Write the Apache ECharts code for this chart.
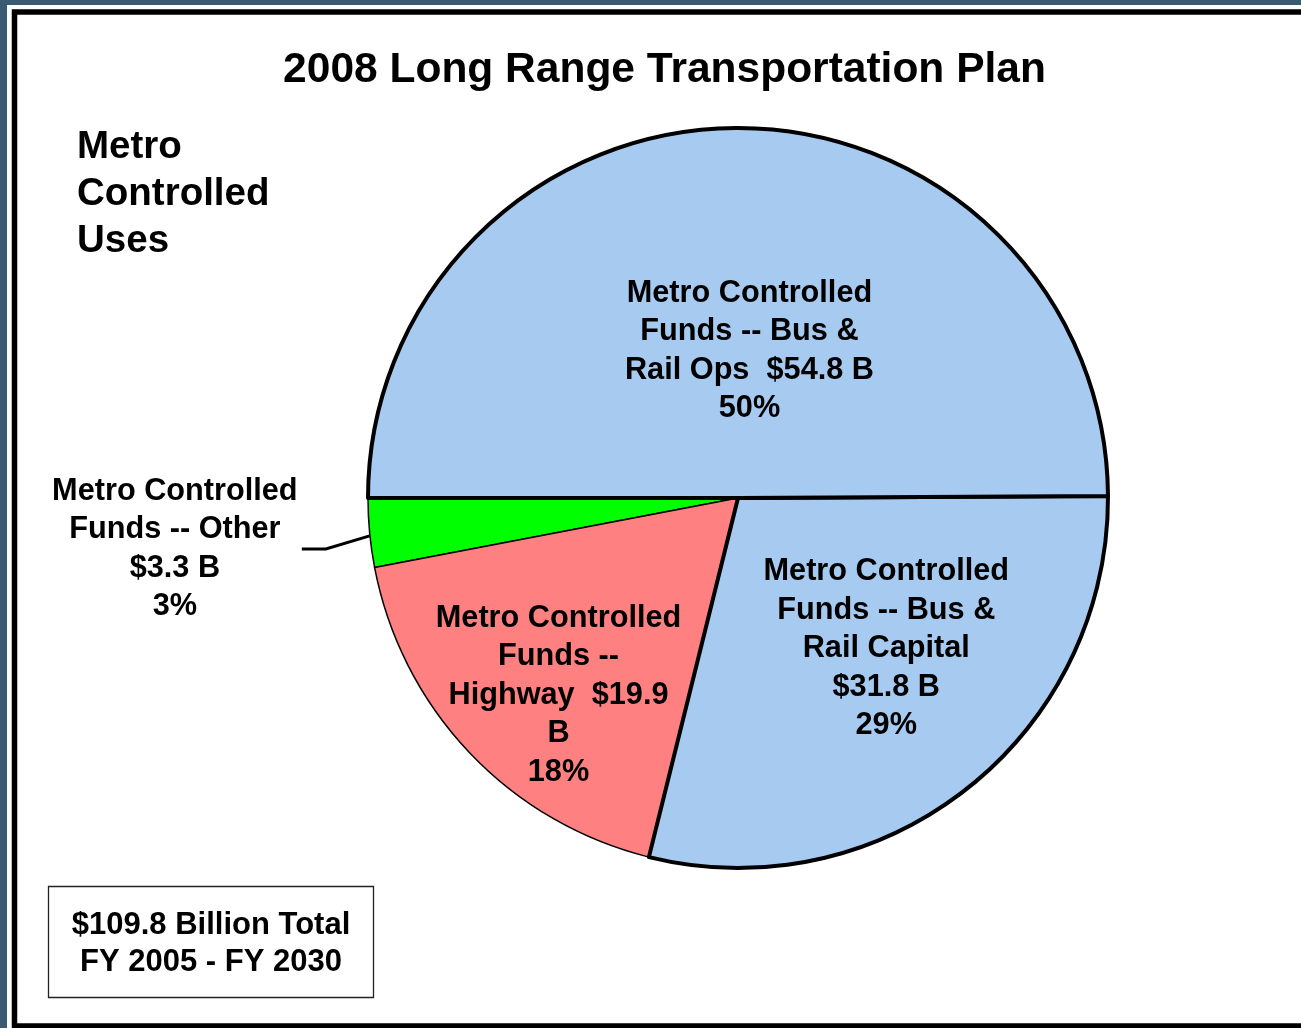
<!DOCTYPE html>
<html>
<head>
<meta charset="utf-8">
<script src="https://cdn.jsdelivr.net/npm/echarts@6/dist/echarts.min.js"></script>
<style>
  html, body { margin: 0; padding: 0; background: #fff; overflow: hidden; }
  #chart { width: 1301px; height: 1028px; }
</style>
</head>
<body>
<div id="chart"></div>
<script>
// ---- data ----
const chartTitle = '2008 Long Range Transportation Plan';
const sideHeading = 'Metro\nControlled\nUses';
const totalNote = '$109.8 Billion Total\nFY 2005 - FY 2030';
// drawn in this order (counter-clockwise from the left horizontal)
const sliceNames = [
  'Metro Controlled Funds -- Other',
  'Metro Controlled Funds -- Highway',
  'Metro Controlled Funds -- Bus & Rail Capital',
  'Metro Controlled Funds -- Bus & Rail Ops'
];
const sliceValues = [3.3, 19.9, 31.8, 54.8];
const sliceLabelTemplates = [
  'Metro Controlled\nFunds -- Other\n$#V B\n#P%',
  'Metro Controlled\nFunds --\nHighway  $#V\nB\n#P%',
  'Metro Controlled\nFunds -- Bus &\nRail Capital\n$#V B\n#P%',
  'Metro Controlled\nFunds -- Bus &\nRail Ops  $#V B\n#P%'
];
const sliceColors = ['#00FF00', '#FF8080', '#A6CAF0', '#A6CAF0'];

// ---- styling ----
const FONT = '"Liberation Sans", Arial, sans-serif';
const LABEL_SIZE = 30.7;
const borderWidths = [1.5, 1.5, 4, 4];
const insideShift = [null, [-43, 68], [32, 3], [12, 41]];
const outsideDrop = 12;

function labelText(i, p) {
  return sliceLabelTemplates[i].replace('#V', sliceValues[i]).replace('#P', Math.round(p));
}

const chart = echarts.init(document.getElementById('chart'), null, { renderer: 'canvas' });

const data = sliceNames.map((name, i) => {
  const item = {
    name: name,
    value: sliceValues[i],
    itemStyle: { color: sliceColors[i], borderColor: '#000', borderWidth: borderWidths[i] }
  };
  if (i === 0) {
    item.label = {
      show: true,
      position: 'outside',
      formatter: (p) => labelText(0, p.percent).split('\n').map(s => '{a|' + s + '}').join('\n'),
      rich: {
        a: { fontSize: LABEL_SIZE, fontWeight: 'bold', fontFamily: FONT, color: '#000', lineHeight: 38.5, width: 244, align: 'center' }
      }
    };
    item.labelLine = { show: true, length: 44, length2: 24, lineStyle: { color: '#000', width: 3 } };
  } else {
    item.label = {
      show: true,
      position: 'inside',
      formatter: (p) => labelText(i, p.percent),
      fontSize: LABEL_SIZE, fontWeight: 'bold', fontFamily: FONT, color: '#000', lineHeight: 38.5, align: 'center'
    };
    item.labelLine = { show: false };
  }
  return item;
});

chart.setOption({
  backgroundColor: '#3A5A72',
  animation: false,
  graphic: [
    { type: 'rect', z: -10, shape: { x: 7, y: 5, width: 2000, height: 1100 }, style: { fill: '#fff' } },
    { type: 'rect', z: -9, shape: { x: 14.5, y: 12, width: 2000, height: 1014 }, style: { fill: '#fff', stroke: '#000', lineWidth: 5.5 } },
    { type: 'text', z: 5, x: 664.5, y: 70,
      style: { text: chartTitle, font: 'bold 42.5px ' + FONT, fill: '#000', textAlign: 'center', textVerticalAlign: 'middle', align: 'center', verticalAlign: 'middle' } },
    { type: 'text', z: 5, x: 77, y: 124,
      style: { text: sideHeading, font: 'bold 38.5px ' + FONT, fill: '#000', lineHeight: 47, textAlign: 'left', textVerticalAlign: 'top', align: 'left', verticalAlign: 'top' } },
    { type: 'rect', z: 5, shape: { x: 48.5, y: 886.5, width: 325, height: 111 }, style: { fill: '#fff', stroke: '#222', lineWidth: 1.3 } },
    { type: 'text', z: 6, x: 211, y: 944,
      style: { text: totalNote, font: 'bold 31px ' + FONT, fill: '#000', lineHeight: 37.5, textAlign: 'center', textVerticalAlign: 'middle', align: 'center', verticalAlign: 'middle' } }
  ],
  series: [{
    type: 'pie',
    center: [738, 498],
    radius: [0, 370],
    startAngle: 180,
    clockwise: false,
    avoidLabelOverlap: false,
    percentPrecision: 1,
    silent: true,
    data: data,
    labelLayout: function (params) {
      const s = insideShift[params.dataIndex];
      if (s) return { dx: s[0], dy: s[1] };
      const pts = params.labelLinePoints;
      if (!pts) return {};
      return {
        dy: outsideDrop,
        labelLinePoints: [
          [pts[0][0], pts[0][1] + 3],
          [pts[1][0], pts[1][1] + outsideDrop],
          [pts[2][0], pts[2][1] + outsideDrop]
        ]
      };
    }
  }]
});
</script>
</body>
</html>
